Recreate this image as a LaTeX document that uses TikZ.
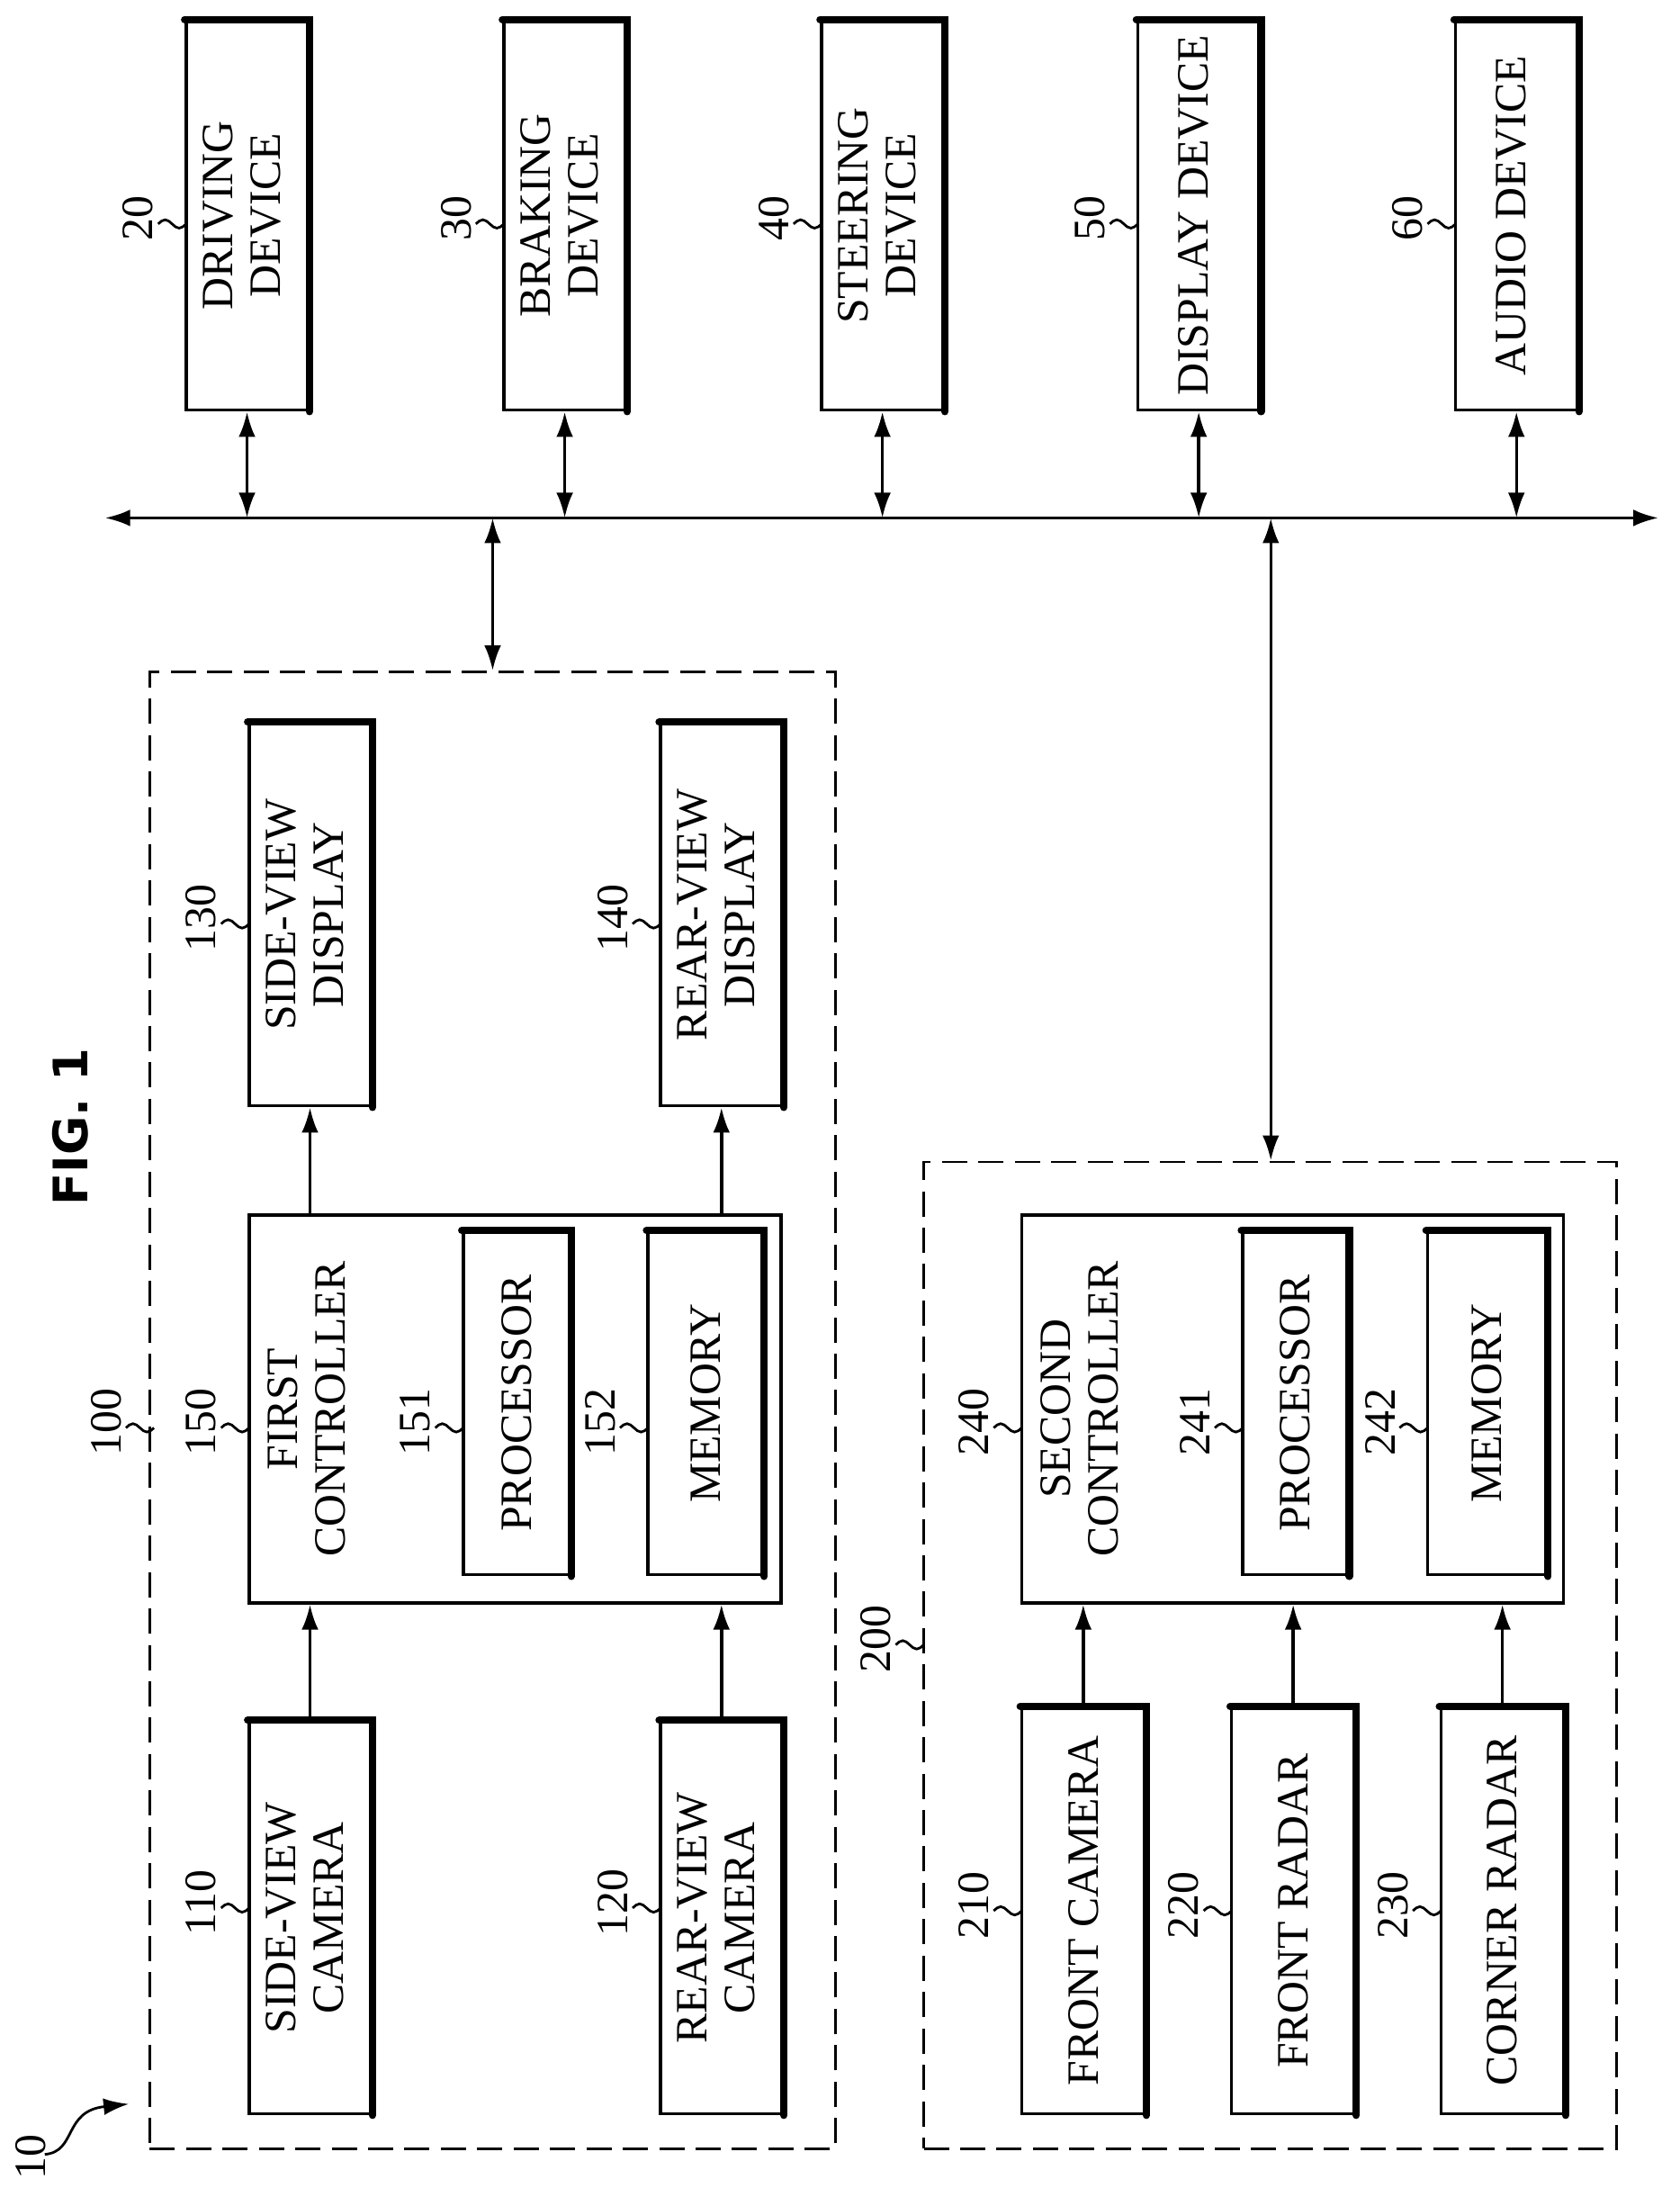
\documentclass[tikz,border=0pt]{standalone}
\usepackage{fontspec}
\setmainfont{Liberation Serif}
\newfontfamily\figfont{DejaVu Sans}
\usetikzlibrary{arrows.meta, positioning}

\tikzset{
  blk/.style={draw, line width=1.1pt, inner sep=0pt},
  heavy/.style={line width=2.6pt, line cap=round},
  link/.style={line width=1.1pt, -{Latex[length=9pt,width=6pt]}},
  dlink/.style={line width=1.1pt, {Latex[length=9pt,width=6pt]}-{Latex[length=9pt,width=6pt]}},
  group/.style={draw, line width=0.9pt, dash pattern=on 9pt off 4pt},
}
% box with heavy top and right edges
\newcommand{\shadebox}[1]{\draw[heavy] (#1.north west) -- (#1.north east) -- (#1.south east);}
% reference numeral with squiggle ending at (x,y)
\newcommand{\refnum}[3]{%
  \draw[line width=0.9pt] (#1-20,#2) sin (#1-15,#2+3) cos (#1-10,#2) sin (#1-5,#2-3) cos (#1,#2);
  \node[anchor=east, inner sep=1pt] at (#1-21,#2+4) {\rotatebox{90}{#3}};}

\begin{document}
\begin{tikzpicture}[x=0.5pt, y=0.5pt, font=\fontsize{16}{17}\selectfont]
  \useasboundingbox (0,0) rectangle (1200,1563);

  % top devices
  \foreach \nm/\cx/\txt/\num in {drv/176.5/{DRIVING\\DEVICE}/20, brk/403.5/{BRAKING\\DEVICE}/30,
      str/630.5/{STEERING\\DEVICE}/40, dsp/856.5/{DISPLAY DEVICE}/50, aud/1083.5/{AUDIO DEVICE}/60} {
    \node[blk, minimum width=43.5pt, minimum height=139pt] (\nm) at (\cx,1409)
      {\rotatebox{90}{\begin{tabular}{@{}c@{}}\txt\end{tabular}}};
    \shadebox{\nm}
    \refnum{\cx-43.5}{1403}{\num}
  }

  % bus
  \coordinate (busL) at (75,1193);
  \coordinate (busR) at (1185,1193);
  \draw[dlink] (busL) -- (busR);
  \foreach \nm in {drv,brk,str,dsp,aud}
    \draw[dlink] (\nm.south) -- (\nm.south |- busL);

  % first group
  \node[group, minimum width=245pt, minimum height=527.5pt, inner sep=0pt] (grpA) at (352,555.5) {};
  \refnum{110}{543}{100}
  \draw[dlink] (grpA.north -| 352,0) -- (352,1193);

  \node[blk, minimum width=43.5pt, minimum height=136.5pt] (sdsp) at (221.5,909.5)
    {\rotatebox{90}{\begin{tabular}{@{}c@{}}SIDE-VIEW\\DISPLAY\end{tabular}}};
  \node[blk, minimum width=43.5pt, minimum height=136.5pt] (rdsp) at (515.5,909.5)
    {\rotatebox{90}{\begin{tabular}{@{}c@{}}REAR-VIEW\\DISPLAY\end{tabular}}};
  \shadebox{sdsp} \shadebox{rdsp}
  \refnum{178}{903}{130}
  \refnum{472}{903}{140}

  \node[blk, minimum width=190pt, minimum height=138.5pt] (ctlA) at (368,556.5) {};
  \node at (223,556.5) {\rotatebox{90}{\begin{tabular}{@{}c@{}}FIRST\\CONTROLLER\end{tabular}}};
  \node[blk, minimum width=38pt, minimum height=122.5pt] (procA) at (369,560.5) {\rotatebox{90}{PROCESSOR}};
  \node[blk, minimum width=41pt, minimum height=122.5pt] (memA) at (504,560.5) {\rotatebox{90}{MEMORY}};
  \shadebox{procA} \shadebox{memA}
  \refnum{178}{543}{150}
  \refnum{331}{543}{151}
  \refnum{463}{543}{152}

  \node[blk, minimum width=43.5pt, minimum height=140pt] (scam) at (221.5,193)
    {\rotatebox{90}{\begin{tabular}{@{}c@{}}SIDE-VIEW\\CAMERA\end{tabular}}};
  \node[blk, minimum width=43.5pt, minimum height=140pt] (rcam) at (515.5,193)
    {\rotatebox{90}{\begin{tabular}{@{}c@{}}REAR-VIEW\\CAMERA\end{tabular}}};
  \shadebox{scam} \shadebox{rcam}
  \refnum{178}{200}{110}
  \refnum{472}{200}{120}

  \draw[link] (scam.north) -- (scam.north |- ctlA.south);
  \draw[link] (rcam.north) -- (rcam.north |- ctlA.south);
  \draw[link] (sdsp.south |- ctlA.north) -- (sdsp.south);
  \draw[link] (rdsp.south |- ctlA.north) -- (rdsp.south);

  % second group
  \node[group, minimum width=247.5pt, minimum height=352.5pt, inner sep=0pt] (grpB) at (907.5,380.5) {};
  \refnum{660}{388}{200}
  \draw[dlink] (grpB.north -| 908,0) -- (908,1193);

  \node[blk, minimum width=193.5pt, minimum height=138.5pt] (ctlB) at (923.5,556.5) {};
  \node at (775,556.5) {\rotatebox{90}{\begin{tabular}{@{}c@{}}SECOND\\CONTROLLER\end{tabular}}};
  \node[blk, minimum width=37.5pt, minimum height=122.5pt] (procB) at (925.5,560.5) {\rotatebox{90}{PROCESSOR}};
  \node[blk, minimum width=42.5pt, minimum height=122.5pt] (memB) at (1062.5,560.5) {\rotatebox{90}{MEMORY}};
  \shadebox{procB} \shadebox{memB}
  \refnum{730}{543}{240}
  \refnum{888}{543}{241}
  \refnum{1020}{543}{242}

  \foreach \nm/\cx/\txt/\num in {fcam/774/FRONT CAMERA/210, frad/924/FRONT RADAR/220, crad/1073.5/CORNER RADAR/230} {
    \node[blk, minimum width=44pt, minimum height=145pt] (\nm) at (\cx,198) {\rotatebox{90}{\txt}};
    \shadebox{\nm}
    \refnum{\cx-44}{198}{\num}
    \draw[link] (\nm.north) -- (\nm.north |- ctlB.south);
  }

  % title and overall numeral
  \node (fig) at (50,758) {\rotatebox{90}{\figfont\bfseries\fontsize{17}{18}\selectfont FIG. 1}};
  \node[inner sep=1pt] (ten) at (22,22) {\rotatebox{90}{10}};
  \coordinate (tenTip) at (92,60);
  \draw[line width=0.9pt, -{Latex[length=9pt,width=6pt]}] (32,24) .. controls (55,26) and (45,55) .. (tenTip);
\end{tikzpicture}
\end{document}
